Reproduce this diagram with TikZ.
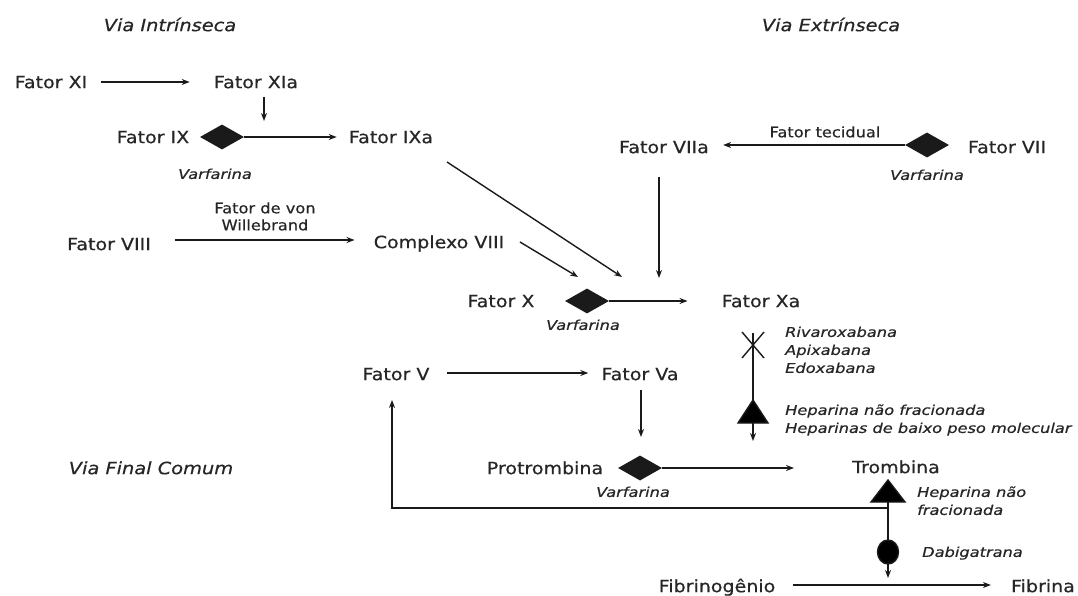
\documentclass[tikz,border=0pt]{standalone}
\usepackage{fontspec}
\setmainfont{DejaVu Sans}[FakeStretch=1.12,FakeBold=0.5]
\newfontfamily\lblfont{DejaVu Sans}[FakeStretch=1.2,FakeBold=0.6]
\newfontfamily\viafont{DejaVu Sans}[FakeStretch=1.14,FakeBold=0.4]
\usetikzlibrary{arrows.meta,shapes.geometric}
\definecolor{txt}{HTML}{262626}
\definecolor{ln}{HTML}{1A1A1A}
\begin{document}
\begin{tikzpicture}[x=1pt,y=-1pt,
  fac/.style={inner sep=0pt,text=txt,font=\fontsize{17}{20}\selectfont,text height=12.4pt,text depth=0pt},
  sub/.style={inner sep=0pt,text=txt,font=\fontsize{14.5}{17}\selectfont,text height=10.6pt,text depth=0pt},
  drug/.style={inner sep=0pt,text=txt,font=\lblfont\itshape\fontsize{13.5}{16}\selectfont,text height=9.8pt,text depth=0pt},
  via/.style={inner sep=0pt,text=txt,font=\viafont\itshape\fontsize{17}{20}\selectfont,text height=12.4pt,text depth=0pt},
  blk/.style={diamond,fill=ln,inner sep=0pt,minimum width=44pt,minimum height=25pt},
  arr/.style={draw=ln,line width=1.4pt,-{Stealth[length=8pt,width=6pt]}},
  ln/.style={draw=ln,line width=1.4pt}
]
\useasboundingbox[fill=white] (0,0) rectangle (1078,596);

% titles
\node[via] (vi) at (170,25) {Via Intrínseca};
\node[via] (ve) at (831,25) {Via Extrínseca};
\node[via] (vf) at (151,468) {Via Final Comum};

% intrinsic pathway
\node[fac] (xi) at (51,82) {Fator XI};
\node[fac] (xia) at (256,82) {Fator XIa};
\node[fac] (ix) at (153,137) {Fator IX};
\node[blk] (dix) at (222,137) {};
\node[fac] (ixa) at (391,137) {Fator IXa};
\node[drug] (vix) at (215,174) {Varfarina};
\node[sub] (vw1) at (265,208) {Fator de von};
\node[sub] (vw2) at (265,225) {Willebrand};
\node[fac] (viii) at (109,244) {Fator VIII};
\node[fac] (cviii) at (439,242) {Complexo VIII};

\draw[arr] ([xshift=14pt]xi.east) -- ([xshift=-24pt]xia.west);
\coordinate (xiad1) at (264,97);
\coordinate (xiad2) at (264,121);
\draw[arr] (xiad1) -- (xiad2);
\draw[arr] (dix.east) -- ([xshift=-12pt]ixa.west);
\draw[arr] ([xshift=24pt,yshift=4pt]viii.east) -- ([xshift=-19pt,yshift=2pt]cviii.west);

% extrinsic pathway
\node[fac] (viia) at (664,147) {Fator VIIa};
\node[sub] (tec) at (825,132) {Fator tecidual};
\node[blk] (dvii) at (927,145) {};
\node[fac] (vii) at (1007,147) {Fator VII};
\node[drug] (vvii) at (927,175) {Varfarina};
\draw[arr] (dvii.west) -- ([xshift=14pt,yshift=2pt]viia.east);

% factor X
\node[fac] (x) at (501,301) {Fator X};
\node[blk] (dx) at (587,301) {};
\node[fac] (xa) at (761,301) {Fator Xa};
\node[drug] (vx) at (583,325) {Varfarina};
\coordinate (hubA) at (622,277);
\coordinate (hubB) at (578,277);
\coordinate (hubC) at (659,278);
\coordinate (ixaout) at (447,162);
\coordinate (cviiiout) at (520,242);
\coordinate (viiaout) at (659,177);
\draw[arr] (ixaout) -- (hubA);
\draw[arr] (cviiiout) -- (hubB);
\draw[arr] (viiaout) -- (hubC);
\draw[arr] (dx.east) -- ([xshift=-34pt]xa.west);

% Xa inhibitors
\coordinate (xtop) at (753,333);
\coordinate (xmark) at (753,345);
\coordinate (tri1) at (753,400);
\coordinate (xend) at (753,441);
\draw[arr] (xtop) -- (xend);
\draw[ln] ([shift={(-11,-13)}]xmark) -- ([shift={(11,13)}]xmark);
\draw[ln] ([shift={(11,-13)}]xmark) -- ([shift={(-11,13)}]xmark);
\fill[ln] (tri1) -- ++(-15,23) -- ++(30,0) -- cycle;
\node[drug,anchor=west] (riv) at (785,332) {Rivaroxabana};
\node[drug,anchor=west] (api) at (785,350) {Apixabana};
\node[drug,anchor=west] (edo) at (785,368) {Edoxabana};
\node[drug,anchor=west] (hep1) at (785,410) {Heparina não fracionada};
\node[drug,anchor=west] (hep2) at (785,428) {Heparinas de baixo peso molecular};

% common pathway
\node[fac] (v) at (396,374) {Fator V};
\node[fac] (va) at (640,374) {Fator Va};
\draw[arr] ([xshift=17pt,yshift=1pt]v.east) -- ([xshift=-13pt,yshift=1pt]va.west);
\coordinate (vad1) at (641,390);
\coordinate (vad2) at (641,437);
\draw[arr] (vad1) -- (vad2);

\node[fac] (pro) at (545,468) {Protrombina};
\node[blk] (dpro) at (640,468) {};
\node[drug] (vpro) at (633,492) {Varfarina};
\node[fac] (tro) at (896,467) {Trombina};
\draw[arr] (dpro.east) -- ([xshift=-58pt,yshift=-1pt]tro.west);

% thrombin inhibitors
\coordinate (tri2) at (888,480);
\coordinate (fb) at (888,508);
\coordinate (circ) at (888,552);
\coordinate (tend) at (888,578);
\coordinate (corner) at (392,508);
\coordinate (vup) at (392,400);
\draw[arr] (tri2) -- (tend);
\fill[ln] (tri2) -- ++(-17,22) -- ++(34,0) -- cycle;
\fill[ln] (circ) ellipse [x radius=10.5, y radius=12];
\draw[arr] (fb) -- (corner) -- (vup);
\node[drug,anchor=west] (hep3) at (917,492) {Heparina não};
\node[drug,anchor=west] (hep4) at (917,510) {fracionada};
\node[drug,anchor=west] (dab) at (922,552) {Dabigatrana};

\node[fac] (fbg) at (717,586) {Fibrinogênio};
\node[fac] (fbn) at (1043,586) {Fibrina};
\draw[arr] ([xshift=17pt,yshift=1pt]fbg.east) -- ([xshift=-20pt,yshift=1pt]fbn.west);
\end{tikzpicture}
\end{document}
